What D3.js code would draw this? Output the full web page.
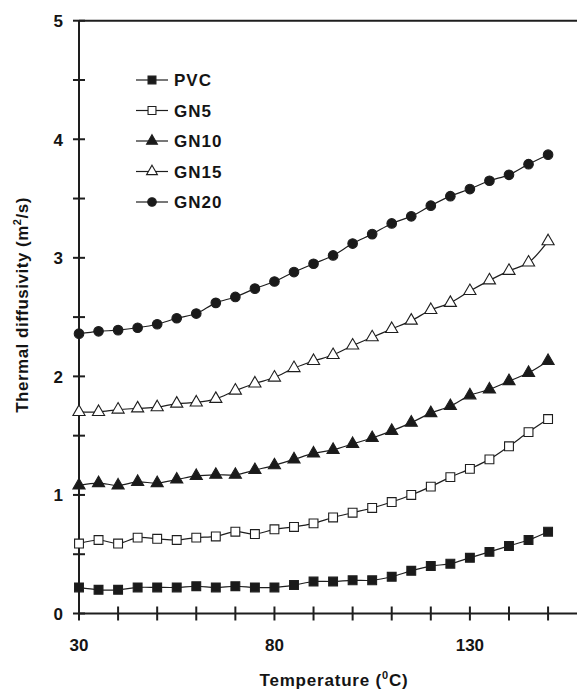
<!DOCTYPE html>
<html>
<head>
<meta charset="utf-8">
<script src="https://cdn.jsdelivr.net/npm/d3@7"></script>
<style>
  body { margin: 0; background: #fff; }
  text { font-family: "Liberation Sans", Arial, sans-serif; font-weight: bold; fill: #141414; }
</style>
</head>
<body>
<svg id="chart" width="577" height="690"></svg>
<script>
const temps = [30, 35, 40, 45, 50, 55, 60, 65, 70, 75, 80, 85, 90, 95, 100, 105, 110, 115, 120, 125, 130, 135, 140, 145, 150];

const pvc  = [0.22, 0.20, 0.20, 0.22, 0.22, 0.22, 0.23, 0.22, 0.23, 0.22, 0.22, 0.24, 0.27, 0.27, 0.28, 0.28, 0.31, 0.36, 0.40, 0.42, 0.47, 0.52, 0.57, 0.62, 0.69];
const gn5  = [0.59, 0.62, 0.59, 0.64, 0.63, 0.62, 0.64, 0.65, 0.69, 0.67, 0.71, 0.73, 0.76, 0.81, 0.85, 0.89, 0.94, 1.00, 1.07, 1.15, 1.22, 1.30, 1.41, 1.53, 1.64];
const gn10 = [1.08, 1.10, 1.08, 1.11, 1.10, 1.13, 1.16, 1.17, 1.17, 1.21, 1.25, 1.30, 1.35, 1.38, 1.43, 1.48, 1.54, 1.61, 1.69, 1.75, 1.84, 1.89, 1.96, 2.03, 2.13];
const gn15 = [1.70, 1.70, 1.72, 1.73, 1.74, 1.77, 1.78, 1.81, 1.88, 1.94, 1.99, 2.07, 2.13, 2.18, 2.26, 2.33, 2.40, 2.47, 2.56, 2.62, 2.72, 2.81, 2.89, 2.96, 3.14];
const gn20 = [2.36, 2.38, 2.39, 2.41, 2.44, 2.49, 2.53, 2.62, 2.67, 2.74, 2.80, 2.88, 2.95, 3.02, 3.12, 3.20, 3.29, 3.35, 3.44, 3.52, 3.58, 3.65, 3.70, 3.79, 3.87];

const seriesNames = ["PVC", "GN5", "GN10", "GN15", "GN20"];
const xTickLabels = [30, 80, 130];
const yTickLabels = [0, 1, 2, 3, 4, 5];

const series = [
  { name: "PVC",  values: pvc,  shape: d3.symbolSquare,   fill: "#1a1a1a", size: 78 },
  { name: "GN5",  values: gn5,  shape: d3.symbolSquare,   fill: "#fff",    size: 78 },
  { name: "GN10", values: gn10, shape: d3.symbolTriangle, fill: "#1a1a1a", size: 64 },
  { name: "GN15", values: gn15, shape: d3.symbolTriangle, fill: "#fff",    size: 64 },
  { name: "GN20", values: gn20, shape: d3.symbolCircle,   fill: "#1a1a1a", size: 72 }
];

const svg = d3.select("#chart");
const plotLeft = 79, plotRight = 577, plotTop = 20.7, plotBottom = 613.5;

const x = d3.scaleLinear().domain([30, 157.4]).range([plotLeft, plotRight]);
const y = d3.scaleLinear().domain([0, 5]).range([plotBottom, plotTop]);

const ink = "#1e1e1e";

// axis lines (plus the top rule at 5)
svg.append("line").attr("x1", plotLeft).attr("x2", plotRight).attr("y1", plotBottom).attr("y2", plotBottom)
  .attr("stroke", ink).attr("stroke-width", 2);
svg.append("line").attr("x1", plotLeft).attr("x2", plotLeft).attr("y1", plotTop).attr("y2", plotBottom)
  .attr("stroke", ink).attr("stroke-width", 2);
svg.append("line").attr("x1", plotLeft).attr("x2", plotRight).attr("y1", plotTop).attr("y2", plotTop)
  .attr("stroke", ink).attr("stroke-width", 2);

// x ticks every 10, crossing the axis
const xTicks = d3.range(30, 151, 10);
svg.append("g").selectAll("line").data(xTicks).join("line")
  .attr("x1", d => x(d)).attr("x2", d => x(d))
  .attr("y1", plotBottom - 7).attr("y2", plotBottom + 7)
  .attr("stroke", ink).attr("stroke-width", 2);

svg.append("g").selectAll("text").data(xTickLabels).join("text")
  .attr("x", d => x(d)).attr("y", plotBottom + 37)
  .attr("text-anchor", "middle").attr("font-size", 17)
  .text(d => d);

// y ticks every 0.5
const yTicks = d3.range(0, 5.01, 0.5);
svg.append("g").selectAll("line").data(yTicks).join("line")
  .attr("x1", plotLeft - 6).attr("x2", plotLeft + 6)
  .attr("y1", d => y(d)).attr("y2", d => y(d))
  .attr("stroke", ink).attr("stroke-width", 2);

svg.append("g").selectAll("text").data(yTickLabels).join("text")
  .attr("x", plotLeft - 16).attr("y", d => y(d) + 6.5)
  .attr("text-anchor", "end").attr("font-size", 17)
  .text(d => d);

// axis titles
const xt = svg.append("text")
  .attr("x", 334).attr("y", 686)
  .attr("text-anchor", "middle").attr("font-size", 17)
  .attr("letter-spacing", 0.8);
xt.append("tspan").text("Temperature (");
xt.append("tspan").attr("font-size", 11).attr("dy", -7).text("0");
xt.append("tspan").attr("dy", 7).text("C)");

const yt = svg.append("text")
  .attr("transform", "translate(28,305) rotate(-90)")
  .attr("text-anchor", "middle").attr("font-size", 17)
  .attr("letter-spacing", 0.5);
yt.append("tspan").text("Thermal diffusivity (m");
yt.append("tspan").attr("font-size", 11).attr("dy", -7).text("2");
yt.append("tspan").attr("dy", 7).text("/s)");

// lines + markers
const line = d3.line()
  .x((d, i) => x(temps[i]))
  .y(d => y(d))
  .curve(d3.curveCatmullRom.alpha(0.5));

series.forEach(s => {
  svg.append("path").datum(s.values)
    .attr("d", line)
    .attr("fill", "none").attr("stroke", ink).attr("stroke-width", 1.2);
  svg.append("g").selectAll("path").data(s.values).join("path")
    .attr("transform", (d, i) => `translate(${x(temps[i])},${y(d)})`)
    .attr("d", d3.symbol().type(s.shape).size(s.size))
    .attr("fill", s.fill).attr("stroke", ink).attr("stroke-width", 1.1);
});

// legend
const legend = svg.append("g");
series.forEach((s, i) => {
  const ly = 80 + i * 30.5;
  legend.append("line").attr("x1", 136).attr("x2", 168).attr("y1", ly).attr("y2", ly)
    .attr("stroke", ink).attr("stroke-width", 1.2);
  legend.append("path").attr("transform", `translate(152,${ly})`)
    .attr("d", d3.symbol().type(s.shape).size(s.size * 0.8))
    .attr("fill", s.fill).attr("stroke", ink).attr("stroke-width", 1.1);
  legend.append("text").attr("x", 174).attr("y", ly + 6)
    .attr("font-size", 17).attr("letter-spacing", 1)
    .text(seriesNames[i]);
});
</script>
</body>
</html>
